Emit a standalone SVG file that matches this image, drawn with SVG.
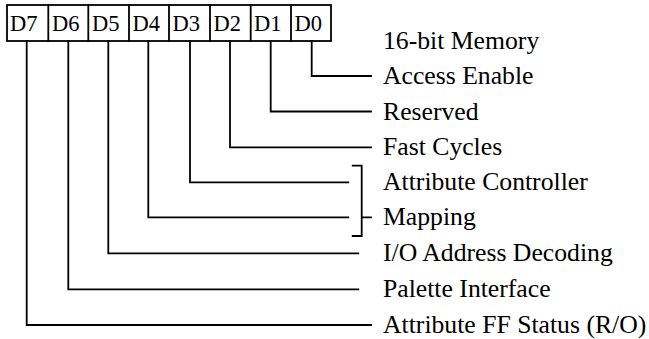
<svg xmlns="http://www.w3.org/2000/svg" width="649" height="339" viewBox="0 0 649 339">
<style>
.ln{fill:none;stroke:#000;stroke-width:1.8;stroke-linecap:square}
.cell{fill:#fff;stroke:#000;stroke-width:1.8}
.bit{font-family:"Liberation Serif","Times New Roman",serif;font-size:22.5px;fill:#000}
.lbl{font-family:"Liberation Serif","Times New Roman",serif;font-size:25.7px;fill:#000}
</style>
<rect width="649" height="339" fill="#fff"/>
<g id="register">
<rect class="cell" x="7" y="5" width="324" height="36"/>
<path class="ln" d="M48.3 5V41M88.3 5V41M129 5V41M169 5V41M210 5V41M250.7 5V41M291 5V41"/>
<text class="bit" x="10" y="31">D7</text>
<text class="bit" x="52" y="31">D6</text>
<text class="bit" x="92" y="31">D5</text>
<text class="bit" x="132.5" y="31">D4</text>
<text class="bit" x="172.5" y="31">D3</text>
<text class="bit" x="213.5" y="31">D2</text>
<text class="bit" x="254" y="31">D1</text>
<text class="bit" x="294.5" y="31">D0</text>
</g>
<g id="connectors">
<path class="ln" d="M311.7 41V76H371"/>
<path class="ln" d="M270.7 41V111.5H371"/>
<path class="ln" d="M230 41V147.3H371"/>
<path class="ln" d="M190 41V182.3H348.3"/>
<path class="ln" d="M148.3 41V217.3H348.3"/>
<path class="ln" d="M108.3 41V253.3H358.3"/>
<path class="ln" d="M68.3 41V289.3H358.3"/>
<path class="ln" d="M26.7 41V325H371"/>
<path class="ln" d="M352.7 165.7H361.7V236H352.7M361.7 217.3H371"/>
</g>
<g id="labels">
<text class="lbl" x="383" y="49">16-bit Memory</text>
<text class="lbl" x="383" y="84">Access Enable</text>
<text class="lbl" x="383" y="119.5">Reserved</text>
<text class="lbl" x="383" y="155.3">Fast Cycles</text>
<text class="lbl" x="383" y="190.3">Attribute Controller</text>
<text class="lbl" x="383" y="225.3">Mapping</text>
<text class="lbl" x="383" y="261.3">I/O Address Decoding</text>
<text class="lbl" x="383" y="297.3">Palette Interface</text>
<text class="lbl" x="383" y="333">Attribute FF Status (R/O)</text>
</g>
</svg>
